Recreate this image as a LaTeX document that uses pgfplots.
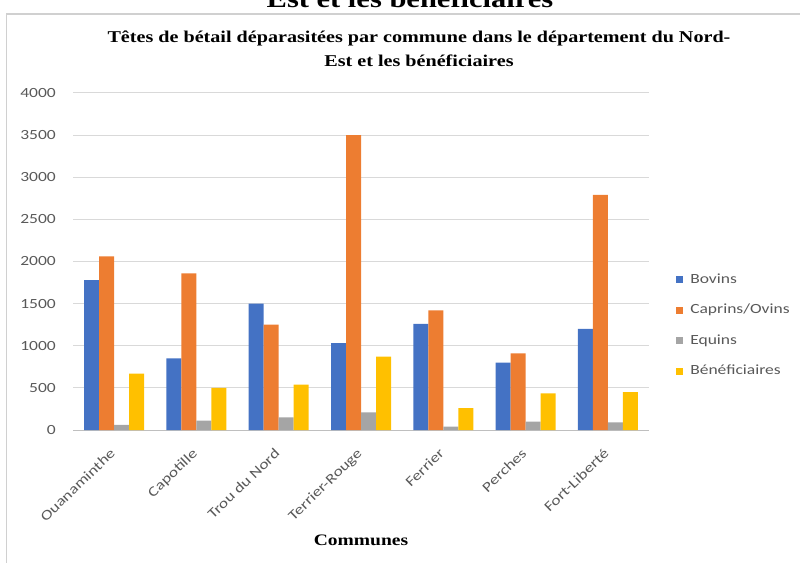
\documentclass[border=0pt]{standalone}
\usepackage{pgfplots}
\pgfplotsset{compat=1.18}
\usepackage{pgfplotstable}
\usepackage{fontspec}
\setmainfont{Carlito}[FakeStretch=1.25]
\newfontfamily\serifbf{Liberation Serif}[FakeStretch=1.22]
\definecolor{bov}{HTML}{4472C4}
\definecolor{cap}{HTML}{ED7D31}
\definecolor{equ}{HTML}{A5A5A5}
\definecolor{ben}{HTML}{FFC000}
\definecolor{txt}{HTML}{595959}
\definecolor{gridc}{HTML}{D9D9D9}
\definecolor{basec}{HTML}{BFBFBF}
\definecolor{framec}{HTML}{D0D0D0}

\pgfplotstableread{
x bov cap equ ben
0 1780 2060 60 670
1 850 1860 110 500
2 1500 1250 150 540
3 1030 3500 210 870
4 1260 1420 40 260
5 800 910 100 435
6 1200 2790 90 450
}\data

\begin{document}
\begin{tikzpicture}
\useasboundingbox (0pt,0pt) rectangle (800pt,562pt);
\draw[framec, line width=1.3pt] (6.5pt,-20pt) -- (6.5pt,548pt) -- (840pt,548pt);
\node[anchor=base, inner sep=0pt, font=\serifbf\bfseries\fontsize{25}{30}\selectfont] at (410pt,554pt) {Est et les bénéficiaires};
\node[anchor=base, inner sep=0pt, font=\serifbf\bfseries\fontsize{16.5}{20}\selectfont] at (419pt,519.3pt) {Têtes de bétail déparasitées par commune dans le département du Nord-};
\node[anchor=base, inner sep=0pt, font=\serifbf\bfseries\fontsize{16.5}{20}\selectfont] at (419pt,495.3pt) {Est et les bénéficiaires};
\begin{axis}[
  at={(73pt,132pt)}, anchor=south west,
  scale only axis, width=576pt, height=337pt,
  xmin=-0.5, xmax=6.5, ymin=0, ymax=4000,
  ybar=0pt, bar width=15pt,
  axis line style={draw=none},
  tick style={draw=none},
  ytick={0,500,...,4000},
  ymajorgrids, grid style={gridc, line width=1pt},
  extra y ticks={0}, extra y tick labels={},
  extra y tick style={grid style={basec, line width=1pt}},
  /pgf/number format/assume math mode=true,
  /pgf/number format/1000 sep={},
  yticklabel style={font=\fontsize{14}{16}\selectfont, text=txt, anchor=east, inner sep=0pt, xshift=-17pt},
  xtick=data,
  xticklabels={Ouanaminthe,Capotille,Trou du Nord,Terrier-Rouge,Ferrier,Perches,Fort-Liberté},
  xticklabel style={font=\fontsize{14}{16}\selectfont, text=txt, rotate=44, anchor=north east, inner sep=0pt, xshift=-12.6pt, yshift=-5.9pt},
  xlabel={Communes},
  xlabel style={at={(axis description cs:0.5,-0.326)}, anchor=center, font=\serifbf\bfseries\fontsize{16}{20}\selectfont},
  legend cell align=left,
  legend image code/.code={\path[#1] (0pt,-3.5pt) rectangle (7pt,3.5pt);},
  legend style={at={(axis description cs:1.047,0.310)}, anchor=west, draw=none, fill=none, inner sep=0pt,
    font=\fontsize{14}{16}\selectfont, text=txt,
    nodes={inner sep=0pt, text height=10pt, text depth=3pt},
    row sep=17.5pt, column sep=7pt},
]
\addplot[fill=bov, draw=none] table[x=x, y=bov] {\data};
\addlegendentry{Bovins}
\addplot[fill=cap, draw=none] table[x=x, y=cap] {\data};
\addlegendentry{Caprins/Ovins}
\addplot[fill=equ, draw=none] table[x=x, y=equ] {\data};
\addlegendentry{Equins}
\addplot[fill=ben, draw=none] table[x=x, y=ben] {\data};
\addlegendentry{Bénéficiaires}
\end{axis}
\end{tikzpicture}
\end{document}
